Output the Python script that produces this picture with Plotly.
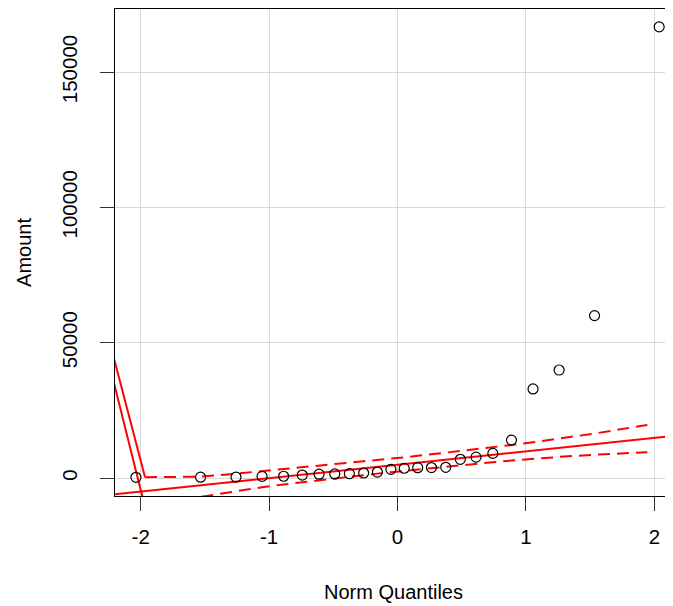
import plotly.graph_objects as go

# Theoretical normal quantiles (x) and sorted sample values (y)
norm_q = [-2.037, -1.534, -1.258, -1.055, -0.887, -0.742, -0.611, -0.489,
          -0.375, -0.264, -0.157, -0.052, 0.052, 0.157, 0.264, 0.375,
          0.489, 0.611, 0.742, 0.887, 1.055, 1.258, 1.534, 2.037]
amount = [250, 300, 350, 600, 650, 1100, 1400, 1500,
          1600, 1850, 2200, 3200, 3600, 3800, 3850, 3950,
          6900, 7700, 9100, 14000, 32900, 39900, 60000, 166700]

# Reference line (quartile fit)
ref_x = [-2.3, 2.3]
ref_y = [-6531, 16331]

# Confidence envelope
env_x = [-1.966, -1.534, -1.258, -1.055, -0.887, -0.742, -0.611, -0.489,
         -0.375, -0.264, -0.157, -0.052, 0.052, 0.157, 0.264, 0.375,
         0.489, 0.611, 0.742, 0.887, 1.055, 1.258, 1.534, 1.945]
env_upper = [300, 500, 1600, 2500, 3375, 3971, 4532, 5073,
             5594, 6112, 6623, 7135, 7651, 8183, 8736, 9322,
             9933, 10606, 11347, 12191, 13211, 14512, 16434, 19617]
env_lower = [-10171, -7000, -4712, -3411, -2391, -1547, -806, -133,
             478, 1064, 1617, 2149, 2665, 3177, 3688, 4206,
             4727, 5268, 5829, 6425, 7075, 7792, 8614, 9517]

# Steep solid segments at the left edge
seg_a_x = [-2.25, -1.966]
seg_a_y = [51800, 300]
seg_b_x = [-2.25, -1.96]
seg_b_y = [43045, -11970]

x_ticks = [-2, -1, 0, 1, 2]
y_ticks = [0, 50000, 100000, 150000]

RED = "#ff0000"
fig = go.Figure()
fig.add_trace(go.Scatter(x=seg_a_x, y=seg_a_y, mode="lines",
                         line=dict(color=RED, width=2), hoverinfo="skip"))
fig.add_trace(go.Scatter(x=seg_b_x, y=seg_b_y, mode="lines",
                         line=dict(color=RED, width=2), hoverinfo="skip"))
fig.add_trace(go.Scatter(x=env_x, y=env_upper, mode="lines",
                         line=dict(color=RED, width=2, dash="12px,7px")))
fig.add_trace(go.Scatter(x=env_x, y=env_lower, mode="lines",
                         line=dict(color=RED, width=2, dash="12px,7px")))
fig.add_trace(go.Scatter(x=ref_x, y=ref_y, mode="lines",
                         line=dict(color=RED, width=2)))
fig.add_trace(go.Scatter(x=norm_q, y=amount, mode="markers",
                         marker=dict(symbol="circle-open", size=10,
                                     color="black", line=dict(width=1.2))))

font = dict(family="Liberation Sans, Arial, sans-serif", size=20, color="black")
tick_font = dict(family="Liberation Sans, Arial, sans-serif", size=20.5, color="black")
# The page body has an 8px margin, so the figure is sized to fit inside the window
fig.update_layout(
    width=665, height=598,
    margin=dict(l=107, r=1, t=1, b=110),
    paper_bgcolor="white", plot_bgcolor="white",
    showlegend=False, font=font,
)
fig.update_xaxes(
    range=[-2.2, 2.137], tickvals=x_ticks, ticktext=[str(v) for v in x_ticks],
    automargin=False, tickfont=tick_font,
    showgrid=True, gridcolor="#d9d9d9", gridwidth=1, zeroline=False,
    showline=True, linecolor="black", linewidth=1, mirror=True,
    ticks="outside", ticklen=14, tickcolor="#333", tickwidth=1,
    ticklabelstandoff=8,
    title=dict(text="Norm Quantiles", font=font, standoff=38),
)
fig.update_yaxes(
    range=[-6650, 173300], tickvals=y_ticks, ticktext=[str(v) for v in y_ticks],
    tickangle=-90, automargin=False, tickfont=tick_font,
    showgrid=True, gridcolor="#d9d9d9", gridwidth=1, zeroline=False,
    showline=True, linecolor="black", linewidth=1, mirror=True,
    ticks="outside", ticklen=14, tickcolor="#333", tickwidth=1,
    ticklabelstandoff=15,
    title=dict(text="Amount", font=font, standoff=20),
)
fig.write_html("out.html")
